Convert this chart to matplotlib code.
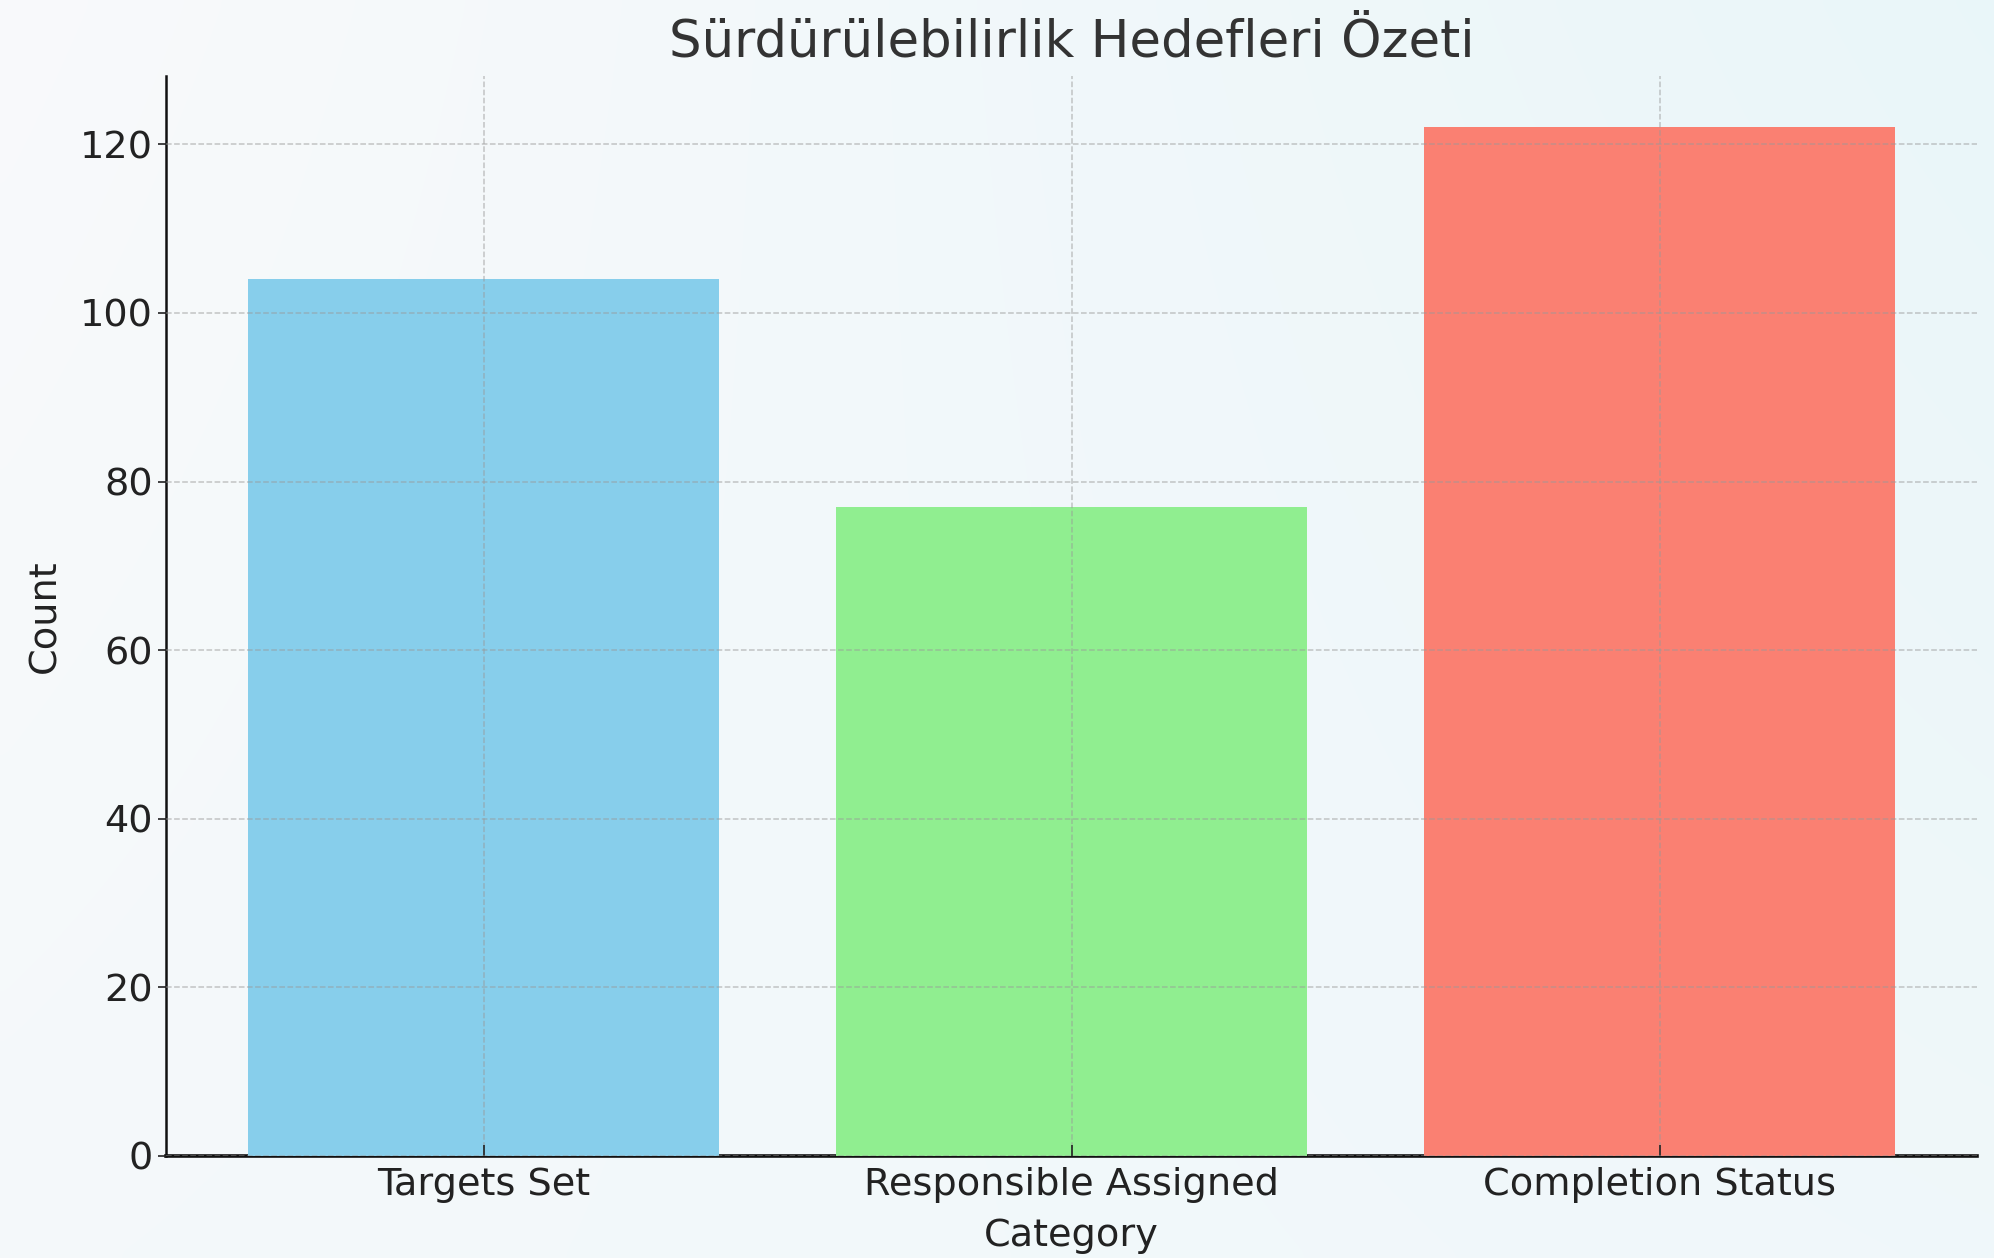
import matplotlib
matplotlib.use("Agg")
import matplotlib.pyplot as plt
import numpy as np

categories = ["Targets Set", "Responsible Assigned", "Completion Status"]
counts = [104, 77, 122]
bar_colors = ["skyblue", "lightgreen", "salmon"]
title = "Sürdürülebilirlik Hedefleri Özeti"
xlabel = "Category"
ylabel = "Count"
yticks = [0, 20, 40, 60, 80, 100, 120]

plt.rcParams['font.family'] = ['DejaVu Sans']

fig = plt.figure(figsize=(19.94, 12.58), dpi=100, facecolor="#f6f9fb")

# subtle watercolor-like background
bg = fig.add_axes([0, 0, 1, 1], zorder=-10)
h, w = 126, 200
yy, xx = np.mgrid[0:h, 0:w] / np.array([h, w])[:, None, None]
tint = np.clip(0.5 * xx + 0.35 * (1 - yy) * xx + 0.25 * yy * (1 - xx), 0, 1)
base = np.array([0.975, 0.98, 0.985])
cyan = np.array([0.86, 0.95, 0.97])
img = base[None, None, :] * (1 - tint[..., None] * 0.6) + cyan[None, None, :] * (tint[..., None] * 0.6)
bg.imshow(img, aspect="auto", extent=[0, 1, 0, 1], interpolation="bicubic")
bg.set_axis_off()

ax = fig.add_axes([0.0833, 0.0811, 0.9082, 0.8585])
ax.set_facecolor("none")
x = np.arange(len(categories))
ax.bar(x, counts, width=0.8, color=bar_colors, zorder=1)
ax.set_xticks(x)
ax.set_xticklabels(categories)
ax.set_yticks(yticks)
ax.tick_params(axis="both", labelsize=27.5, colors="#222222", length=6, width=1.2)
ax.tick_params(axis="x", direction="in", length=8, pad=8)
ax.set_xlabel(xlabel, fontsize=27.5, color="#222222", labelpad=11)
ax.set_ylabel(ylabel, fontsize=27.5, color="#222222", labelpad=12)
ax.set_title(title, fontsize=37, color="#333333", pad=14)
ax.grid(True, linestyle="--", color="#999999", alpha=0.55, linewidth=1.1)
ax.set_axisbelow(False)
for s in ["top", "right"]:
    ax.spines[s].set_visible(False)
ax.spines["left"].set_linewidth(1.8)
ax.spines["left"].set_color("#111111")
ax.spines["bottom"].set_linewidth(2.6)
ax.spines["bottom"].set_color("#111111")
ax.spines["bottom"].set_zorder(0)

fig.savefig("out.png", dpi=100, facecolor=fig.get_facecolor())
